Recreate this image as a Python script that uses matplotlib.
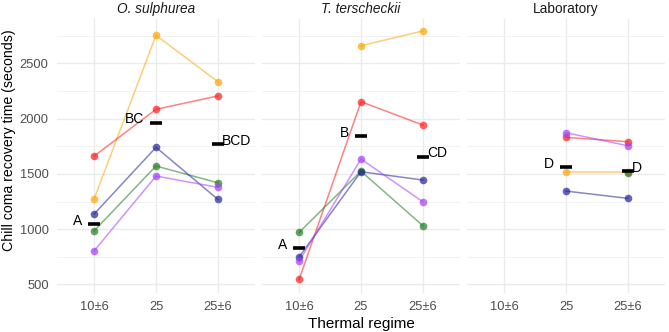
import numpy as np
import matplotlib.pyplot as plt

plt.rcParams['font.family'] = ['Liberation Sans', 'DejaVu Sans']

# --- Data ---
regimes = ['10±6', '25', '25±6']
panels = ['O. sulphurea', 'T. terscheckii', 'Laboratory']
panel_italic = [True, True, False]

# per-group mean recovery time, one list per panel (NaN = no data)
red = [[1662, 2085, 2206], [545, 2154, 1943], [np.nan, 1831, 1792]]
yellow = [[1273, 2755, 2335], [np.nan, 2661, 2794], [np.nan, 1520, 1520]]
green = [[985, 1572, 1420], [971, 1525, 1031], [np.nan, np.nan, 1508]]
blue = [[1137, 1741, 1270], [750, 1520, 1445], [np.nan, 1345, 1279]]
purple = [[804, 1481, 1379], [711, 1635, 1248], [np.nan, 1873, 1755]]

# overall means and letters
overall_mean = [[1043, 1964, 1768], [826, 1843, 1656], [np.nan, 1560, 1526]]
letters = [['A', 'BC', 'BCD'], ['A', 'B', 'CD'], ['', 'D', 'D']]

series = [(yellow, '#FFA500'), (red, '#FF1A1A'), (green, '#1E7B1E'),
          (blue, '#23239A'), (purple, '#A63BFF')]

fig = plt.figure(figsize=(6.69, 3.32), dpi=100, facecolor='white')
W, H = 669, 332
lefts = [57, 262, 467]
pw = 198
top, bottom = 18.5, 292.5

axes = []
for i in range(3):
    ax = fig.add_axes([lefts[i] / W, 1 - bottom / H, pw / W, (bottom - top) / H])
    axes.append(ax)
    x = np.arange(len(regimes))

    for vals, col in series:
        v = np.array(vals[i], dtype=float)
        ax.plot(x, v, color=col, alpha=0.55, lw=1.1, zorder=3)
        ax.plot(x, v, 'o', color=col, alpha=0.7, ms=5.5, mec='none', zorder=4)

    # mean markers + letters
    m = np.array(overall_mean[i], dtype=float)
    ax.plot(x, m, '_', color='black', ms=8, mew=2.6, zorder=5)
    for j in range(len(regimes)):
        if np.isnan(m[j]):
            continue
        if j < 2:
            ax.annotate(letters[i][j], (x[j], m[j]), xytext=(-8.5, 2.5),
                        textcoords='offset points', ha='right', va='center',
                        fontsize=10, color='black')
        else:
            ax.annotate(letters[i][j], (x[j], m[j]), xytext=(3, 2.5),
                        textcoords='offset points', ha='left', va='center',
                        fontsize=10, color='black')

    ax.set_xlim(-0.6, 2.6)
    ax.set_ylim(427, 2907)
    ax.set_xticks(x)
    ax.set_xticklabels(regimes)
    ax.set_yticks([500, 1000, 1500, 2000, 2500])
    ax.set_yticks([750, 1250, 1750, 2250, 2750], minor=True)
    ax.grid(True, which='major', color='#EBEBEB', lw=1.0)
    ax.grid(True, which='minor', axis='y', color='#F2F2F2', lw=0.7)
    ax.set_axisbelow(True)
    for s in ax.spines.values():
        s.set_visible(False)
    ax.tick_params(length=0, labelsize=9.3, colors='#4D4D4D', pad=6)
    ax.tick_params(which='minor', length=0)
    if i > 0:
        ax.set_yticklabels([])
    ax.set_title(panels[i], fontsize=9.8, style='italic' if panel_italic[i] else 'normal',
                 color='#1A1A1A', pad=4)

axes[0].set_ylabel('Chill coma recovery time (seconds)', fontsize=10.2, color='black')
axes[0].yaxis.set_label_coords(-41 / pw, 0.557)
axes[1].set_xlabel('Thermal regime', fontsize=11, color='black', labelpad=3)

plt.savefig('out.png', dpi=100)
